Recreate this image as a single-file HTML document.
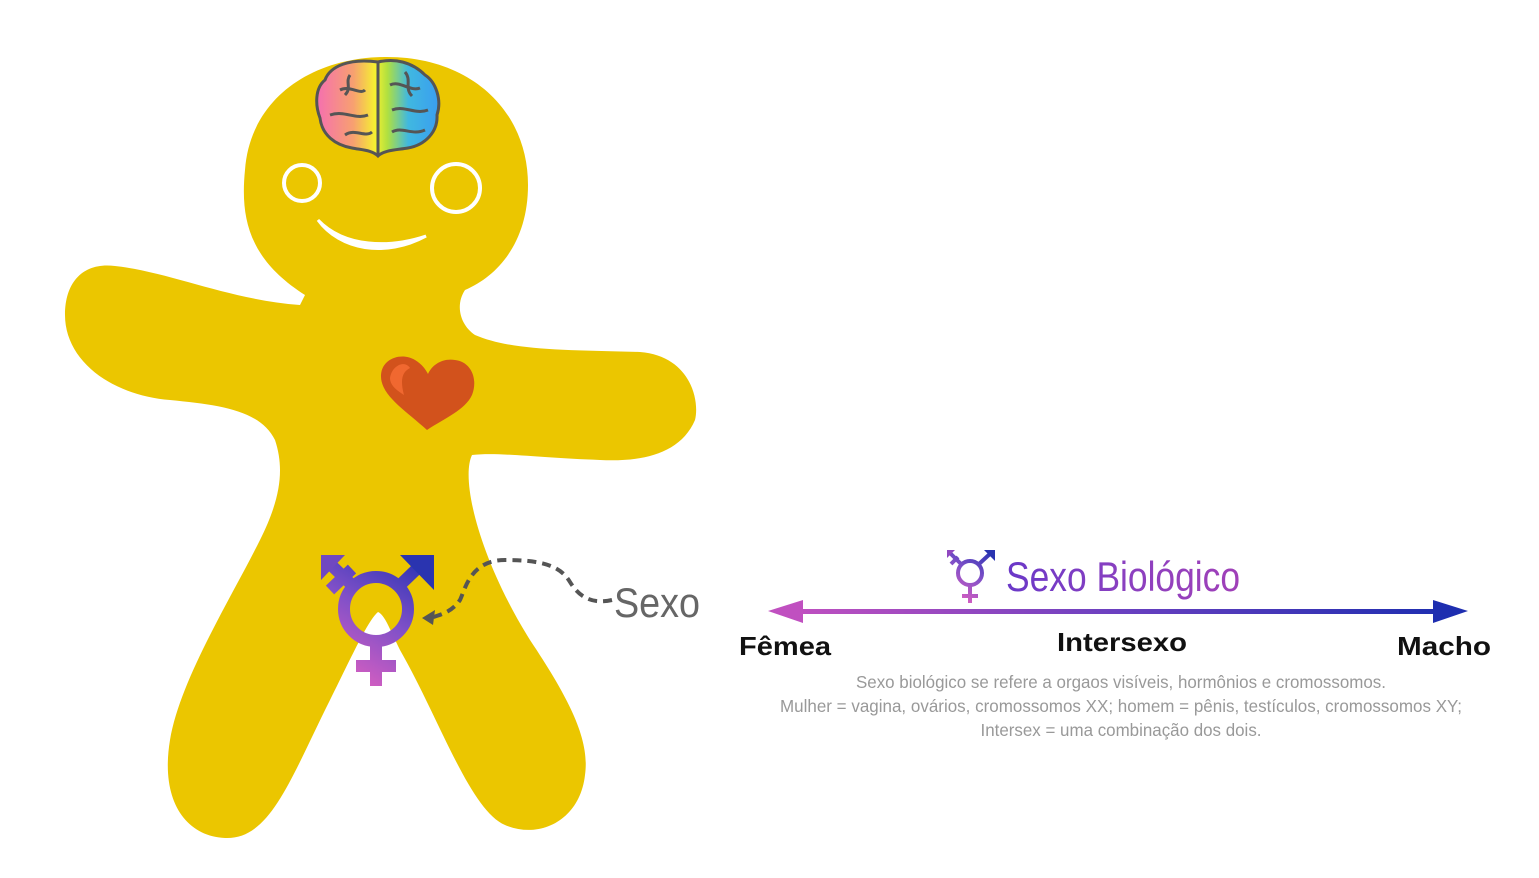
<!DOCTYPE html>
<html><head><meta charset="utf-8"><style>
html,body{margin:0;padding:0;background:#fff;width:1539px;height:878px;overflow:hidden}
svg{display:block}
</style></head><body>
<svg width="1539" height="878" viewBox="0 0 1539 878" xmlns="http://www.w3.org/2000/svg">
<defs>
<linearGradient id="brain" x1="0" x2="1" y1="0" y2="0">
<stop offset="0" stop-color="#f56fb0"/><stop offset="0.3" stop-color="#f7a070"/><stop offset="0.48" stop-color="#f5f030"/><stop offset="0.58" stop-color="#b0e040"/><stop offset="0.75" stop-color="#40b8e0"/><stop offset="1" stop-color="#3a9ef0"/>
</linearGradient>
<linearGradient id="trans" gradientUnits="userSpaceOnUse" x1="350" y1="690" x2="430" y2="555">
<stop offset="0" stop-color="#e060c0"/><stop offset="0.5" stop-color="#8050c8"/><stop offset="1" stop-color="#2030b0"/>
</linearGradient>
<linearGradient id="trans2" gradientUnits="userSpaceOnUse" x1="962" y1="605" x2="995" y2="550">
<stop offset="0" stop-color="#e060c0"/><stop offset="0.5" stop-color="#8050c8"/><stop offset="1" stop-color="#2030b0"/>
</linearGradient>
<linearGradient id="line" x1="0" x2="1">
<stop offset="0" stop-color="#c050c0"/><stop offset="0.5" stop-color="#6a40c0"/><stop offset="1" stop-color="#1e2eb0"/>
</linearGradient>
<linearGradient id="title" x1="0" x2="1">
<stop offset="0" stop-color="#6a38c8"/><stop offset="0.5" stop-color="#8a40c0"/><stop offset="1" stop-color="#a040b8"/>
</linearGradient>
</defs>

<path fill="#EBC600" d="M305,295 C250,260 240,220 245,170 C250,100 310,57 387,57 C470,57 528,110 528,185 C528,240 500,275 465,290 C455,305 460,325 475,335 C510,350 560,350 640,352 C690,356 700,400 695,420 C680,455 640,462 600,460 C540,458 500,452 472,455 C460,480 480,560 530,640 C570,700 590,740 585,775 C580,820 540,840 505,825 C470,810 440,720 400,650 C390,630 385,615 378,612 C368,620 350,660 330,700 C290,780 270,840 225,838 C185,836 160,800 170,740 C180,680 230,600 260,540 C280,500 285,470 275,440 C260,410 220,405 170,400 C110,395 65,360 65,315 C65,280 85,262 115,266 C170,272 230,300 300,305 Z"/>

<circle cx="302" cy="183" r="18" fill="none" stroke="#fff" stroke-width="4"/>
<circle cx="456" cy="188" r="24" fill="none" stroke="#fff" stroke-width="4"/>
<path d="M318,220 C340,250 385,258 426,236 C390,248 345,248 318,220 Z" fill="#fff" stroke="#fff" stroke-width="3"/>

<g>
<path d="M378,62 C350,58 330,66 325,80 C315,88 315,105 320,118 C322,135 335,145 352,148 C362,150 372,150 378,156 C384,150 396,150 408,148 C425,145 438,132 437,115 C442,100 436,82 425,75 C412,62 395,58 378,62 Z" fill="url(#brain)" stroke="#555" stroke-width="3"/>
<path d="M378,62 L378,156 M340,90 C350,85 360,95 365,90 M330,115 C345,110 355,120 368,115 M345,135 C355,128 365,138 372,132 M390,85 C400,80 410,92 420,88 M392,110 C405,105 415,115 428,110 M392,132 C402,126 412,136 425,130 M350,75 C345,82 352,88 345,95 M405,72 C412,80 404,88 412,96" fill="none" stroke="#555" stroke-width="3"/>
</g>

<path d="M427,430 C405,410 380,395 381,375 C382,358 402,352 415,360 C422,364 426,370 428,374 C432,365 442,358 455,360 C472,362 478,380 472,395 C465,410 445,418 427,430 Z" fill="#D2521C"/>
<path d="M390,378 C392,365 405,360 410,368 C402,372 400,380 404,395 C396,390 390,385 390,378 Z" fill="#F06830"/>

<g fill="none" stroke="url(#trans)" stroke-width="12">
<circle cx="376" cy="609" r="32"/>
<line x1="376" y1="641" x2="376" y2="686"/>
<line x1="356" y1="666" x2="396" y2="666"/>
<line x1="398" y1="587" x2="426" y2="560"/>
<line x1="354" y1="587" x2="328" y2="562"/>
<line x1="330" y1="590" x2="352" y2="569"/>
</g>
<polygon points="400,555 434,555 434,590" fill="#2a34b0"/>
<polygon points="321,555 345,555 321,580" fill="#7048c0"/>

<path d="M612,600 C590,605 578,595 570,582 C560,565 540,560 505,560 C470,560 465,590 460,600 C452,612 440,615 430,618" fill="none" stroke="#555" stroke-width="4" stroke-dasharray="9,6"/>
<polygon points="422,618 435,610 433,625" fill="#555"/>
<text x="614" y="617" font-family="'Liberation Sans',sans-serif" font-size="42" fill="#666" textLength="86" lengthAdjust="spacingAndGlyphs">Sexo</text>

<g fill="none" stroke="url(#trans2)" stroke-width="4">
<circle cx="970" cy="573" r="12"/>
<line x1="970" y1="585" x2="970" y2="603"/>
<line x1="962" y1="596" x2="978" y2="596"/>
<line x1="979" y1="564" x2="992" y2="552"/>
<line x1="961" y1="564" x2="950" y2="553"/>
<line x1="951" y1="564" x2="958" y2="557"/>
</g>
<polygon points="984,550 995,550 995,561" fill="#2a34b0"/>
<polygon points="947,550 955,550 947,558" fill="#9048c0"/>
<text x="1006" y="591" font-family="'Liberation Sans',sans-serif" font-size="42" fill="url(#title)" textLength="234" lengthAdjust="spacingAndGlyphs">Sexo Biológico</text>

<rect x="795" y="609" width="650" height="5" fill="url(#line)"/>
<polygon points="768,611 803,600 803,623" fill="#c050c0"/>
<polygon points="1468,611 1433,600 1433,623" fill="#1e2eb0"/>

<g font-family="'Liberation Sans',sans-serif" font-weight="bold" font-size="26" fill="#111">
<text x="739" y="655" textLength="92" lengthAdjust="spacingAndGlyphs">Fêmea</text>
<text x="1057" y="651" textLength="130" lengthAdjust="spacingAndGlyphs">Intersexo</text>
<text x="1397" y="655" textLength="94" lengthAdjust="spacingAndGlyphs">Macho</text>
</g>
<g font-family="'Liberation Sans',sans-serif" font-size="17.5" fill="#999" text-anchor="middle">
<text x="1121" y="688" textLength="530" lengthAdjust="spacingAndGlyphs">Sexo biológico se refere a orgaos visíveis, hormônios e cromossomos.</text>
<text x="1121" y="712" textLength="682" lengthAdjust="spacingAndGlyphs">Mulher = vagina, ovários, cromossomos XX; homem = pênis, testículos, cromossomos XY;</text>
<text x="1121" y="736" textLength="281" lengthAdjust="spacingAndGlyphs">Intersex = uma combinação dos dois.</text>
</g>
</svg>
</body></html>
